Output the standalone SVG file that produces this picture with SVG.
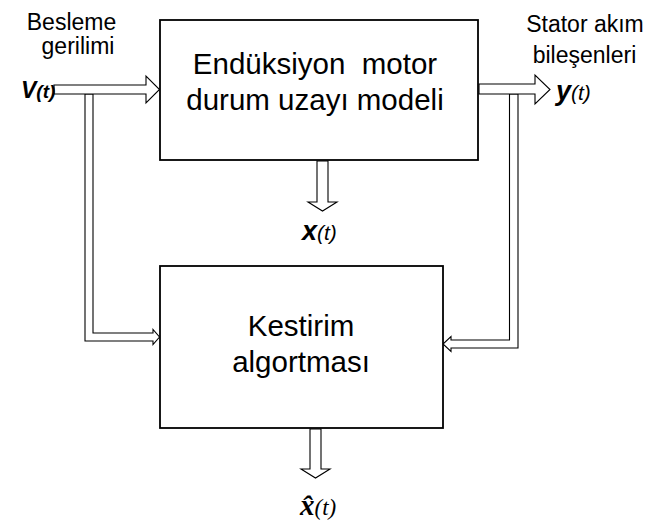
<svg xmlns="http://www.w3.org/2000/svg" width="652" height="524" viewBox="0 0 652 524">
  <style>
    .box { fill: #ffffff; stroke: #000000; stroke-width: 1.8; }
    .arrow { fill: #ffffff; stroke: #000000; stroke-width: 1.1; stroke-linejoin: miter; }
    .lbl { font-family: "Liberation Sans", Arial, sans-serif; fill: #000000; }
    .big { font-size: 29.5px; }
    .side { font-size: 23px; }
    .sig { font-family: "Liberation Sans", Arial, sans-serif; font-style: italic; font-weight: bold; fill: #000000; }
    .arg { font-weight: normal; }
    .serif { font-family: "Liberation Serif", "Times New Roman", serif; fill: #000000; }
  </style>

  <rect width="652" height="524" fill="#ffffff"/>

  <!-- connectors (hollow block arrows) -->
  <g id="connectors">
    <!-- branch of the supply voltage down to the estimator -->
    <polygon class="arrow" points="85,94 85,341 153,341 153,344.5 159.5,337 153,329.5 153,333 93,333 93,94"/>
    <!-- supply voltage into the motor model -->
    <polygon class="arrow" points="54,85 146,85 146,76 159.5,89.5 146,103 146,94 54,94"/>
    <!-- branch of the stator currents down to the estimator -->
    <polygon class="arrow" points="518,94 518,348 451,348 451,351.5 443,344 451,336.5 451,340 509.5,340 509.5,94"/>
    <!-- stator current output -->
    <polygon class="arrow" points="479,84 535,84 535,75 550,89.5 535,104 535,94 479,94"/>
    <!-- state output of the model -->
    <polygon class="arrow" points="317,161 317,202 308,202 322.5,211 337,202 328,202 328,161"/>
    <!-- estimated state output -->
    <polygon class="arrow" points="310,429 310,469 301,469 315.5,478 330,469 321,469 321,429"/>
  </g>

  <!-- motor state-space model -->
  <g id="motor-model">
    <rect class="box" x="160" y="20" width="318" height="140"/>
    <text class="lbl big" x="315" y="74" text-anchor="middle" xml:space="preserve">Endüksiyon  motor</text>
    <text class="lbl big" x="315" y="110" text-anchor="middle">durum uzayı modeli</text>
  </g>

  <!-- estimation algorithm -->
  <g id="estimator">
    <rect class="box" x="160" y="266" width="283" height="162"/>
    <text class="lbl big" x="301" y="336" text-anchor="middle">Kestirim</text>
    <text class="lbl big" x="301" y="372" text-anchor="middle">algortması</text>
  </g>

  <!-- supply voltage label -->
  <g id="input-label">
    <text class="lbl side" x="71.5" y="30" text-anchor="middle">Besleme</text>
    <text class="lbl side" x="78" y="54" text-anchor="middle">gerilimi</text>
    <text class="sig" x="21" y="98"><tspan font-size="23">V</tspan><tspan font-size="19">(t)</tspan></text>
  </g>

  <!-- stator current label -->
  <g id="output-label">
    <text class="lbl side" x="585" y="32" text-anchor="middle">Stator akım</text>
    <text class="lbl side" x="584.5" y="63" text-anchor="middle">bileşenleri</text>
    <text class="sig" x="556" y="100"><tspan font-size="27">y</tspan><tspan class="arg" font-size="21">(t)</tspan></text>
  </g>

  <!-- state label -->
  <g id="state-label">
    <text class="sig" x="302" y="240"><tspan font-size="27">x</tspan><tspan class="arg" font-size="21">(t)</tspan></text>
  </g>

  <!-- estimated state label -->
  <g id="estimate-label">
    <text class="serif" x="300" y="515"><tspan font-size="29" font-weight="bold" font-style="italic">x&#770;</tspan><tspan font-size="23" font-style="italic">(t)</tspan></text>
  </g>
</svg>
